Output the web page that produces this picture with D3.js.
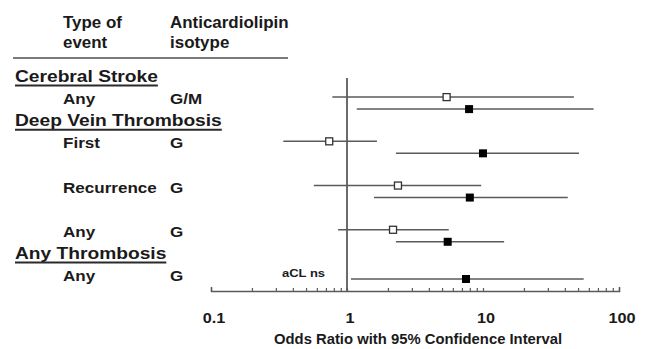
<!DOCTYPE html>
<html>
<head>
<meta charset="utf-8">
<script src="https://cdn.jsdelivr.net/npm/d3@7"></script>
<style>
  html, body { margin: 0; padding: 0; background: #fff; }
  svg { display: block; }
  text { font-family: "Liberation Sans", Arial, sans-serif; font-weight: bold; fill: #1a1a1a; }
</style>
</head>
<body>
<div id="chart"></div>
<script>
// Data
const sections = ["Cerebral Stroke", "Deep Vein Thrombosis", "Any Thrombosis"];
const eventTypes = ["Any", "First", "Recurrence", "Any", "Any"];
const isotypes = ["G/M", "G", "G", "G", "G"];
// open squares
const orOpen = [5.4, 0.74, 2.37, 2.18, null];
const loOpen = [0.78, 0.34, 0.57, 0.86, null];
const hiOpen = [46.6, 1.66, 9.7, 5.6, null];
// filled squares
const orFilled = [7.9, 10.0, 8.0, 5.5, 7.5];
const loFilled = [1.18, 2.29, 1.58, 2.29, 1.07];
const hiFilled = [65, 50.8, 42, 14.3, 55];
const tickLabels = [0.1, 1, 10, 100];
const noteText = "aCL ns";

// layout: which text line each section / row sits on
const sectionLine = [0, 2, 8];
const rowLine = [1, 3, 5, 7, 9];

const width = 646, height = 349;
const lineColor = "#5a5a5a";

const svg = d3.select("#chart").append("svg")
  .attr("width", width)
  .attr("height", height);

const x = d3.scaleLog().domain([0.1, 100]).range([211, 619]);
const yLine = d3.scaleLinear().domain([0, 9]).range([82, 281]);
const axisY = 291;

// text helper, the source lettering is a bit wider than Arial
function label(str, px, py, size, sx, anchor) {
  return svg.append("text")
    .attr("transform", `translate(${px},${py}) scale(${sx},1)`)
    .attr("text-anchor", anchor || "start")
    .style("font-size", size + "px")
    .text(str);
}

// column headers
label("Type of", 63, 28, 16, 1.06);
label("event", 63, 48, 16, 1.06);
label("Anticardiolipin", 170, 28, 16, 1.06);
label("isotype", 170, 48, 16, 1.06);
svg.append("line")
  .attr("x1", 13).attr("x2", 288)
  .attr("y1", 58).attr("y2", 58)
  .style("stroke", "#7a7a7a").style("stroke-width", 2);

// section headers, underlined
sections.forEach((s, i) => {
  const yy = yLine(sectionLine[i]);
  const t = label(s, 15, yy, 16, 1.2);
  const w = t.node().getComputedTextLength() * 1.2;
  svg.append("line")
    .attr("x1", 15).attr("x2", 15 + w)
    .attr("y1", yy + 3.5).attr("y2", yy + 3.5)
    .style("stroke", "#2a2a2a").style("stroke-width", 2);
});

// row labels
eventTypes.forEach((e, i) => {
  const yy = yLine(rowLine[i]);
  label(e, 63, yy, 15.5, 1.1);
  label(isotypes[i], 170, yy, 15.5, 1.1);
});

// reference line at OR = 1
svg.append("line")
  .attr("x1", x(1)).attr("x2", x(1))
  .attr("y1", 78).attr("y2", axisY)
  .style("stroke", "#3a3a3a").style("stroke-width", 1.5);

// x axis, ticks pointing up
const axis = svg.append("g")
  .attr("transform", `translate(0,${axisY})`)
  .call(d3.axisTop(x).tickSize(3).tickSizeOuter(4).tickFormat(""));
axis.select(".domain").style("stroke", lineColor).style("stroke-width", 1.5);
axis.selectAll(".tick line").style("stroke", lineColor).style("stroke-width", 1.2);

tickLabels.forEach(v => {
  label(String(v), x(v) + 3, 323, 15, 1.08, "middle");
});
label("Odds Ratio with 95% Confidence Interval", 274, 344, 14, 1.06);

// note where the open estimate is missing
label(noteText, 282, 277, 11.5, 1.13);

// confidence intervals and point estimates
const rows = d3.range(eventTypes.length);

function markY(i, open) {
  const base = yLine(rowLine[i]);
  if (orOpen[i] == null) return base - 2;
  return open ? base - 7 : base + 5;
}

const openRows = rows.filter(i => orOpen[i] != null);

svg.selectAll(".ci-open")
  .data(openRows)
  .enter().append("line")
  .attr("class", "ci-open")
  .attr("x1", i => x(loOpen[i])).attr("x2", i => x(hiOpen[i]))
  .attr("y1", i => markY(i, true)).attr("y2", i => markY(i, true))
  .style("stroke", lineColor).style("stroke-width", 1.5);

svg.selectAll(".ci-filled")
  .data(rows)
  .enter().append("line")
  .attr("class", "ci-filled")
  .attr("x1", i => x(loFilled[i])).attr("x2", i => x(hiFilled[i]))
  .attr("y1", i => markY(i, false)).attr("y2", i => markY(i, false))
  .style("stroke", lineColor).style("stroke-width", 1.5);

svg.selectAll(".pt-open")
  .data(openRows)
  .enter().append("rect")
  .attr("class", "pt-open")
  .attr("x", i => x(orOpen[i]) - 3.5)
  .attr("y", i => markY(i, true) - 3.5)
  .attr("width", 7).attr("height", 7)
  .style("fill", "#fff").style("stroke", "#333").style("stroke-width", 1.3);

svg.selectAll(".pt-filled")
  .data(rows)
  .enter().append("rect")
  .attr("class", "pt-filled")
  .attr("x", i => x(orFilled[i]) - 4)
  .attr("y", i => markY(i, false) - 4)
  .attr("width", 8).attr("height", 8)
  .style("fill", "#000");
</script>
</body>
</html>
